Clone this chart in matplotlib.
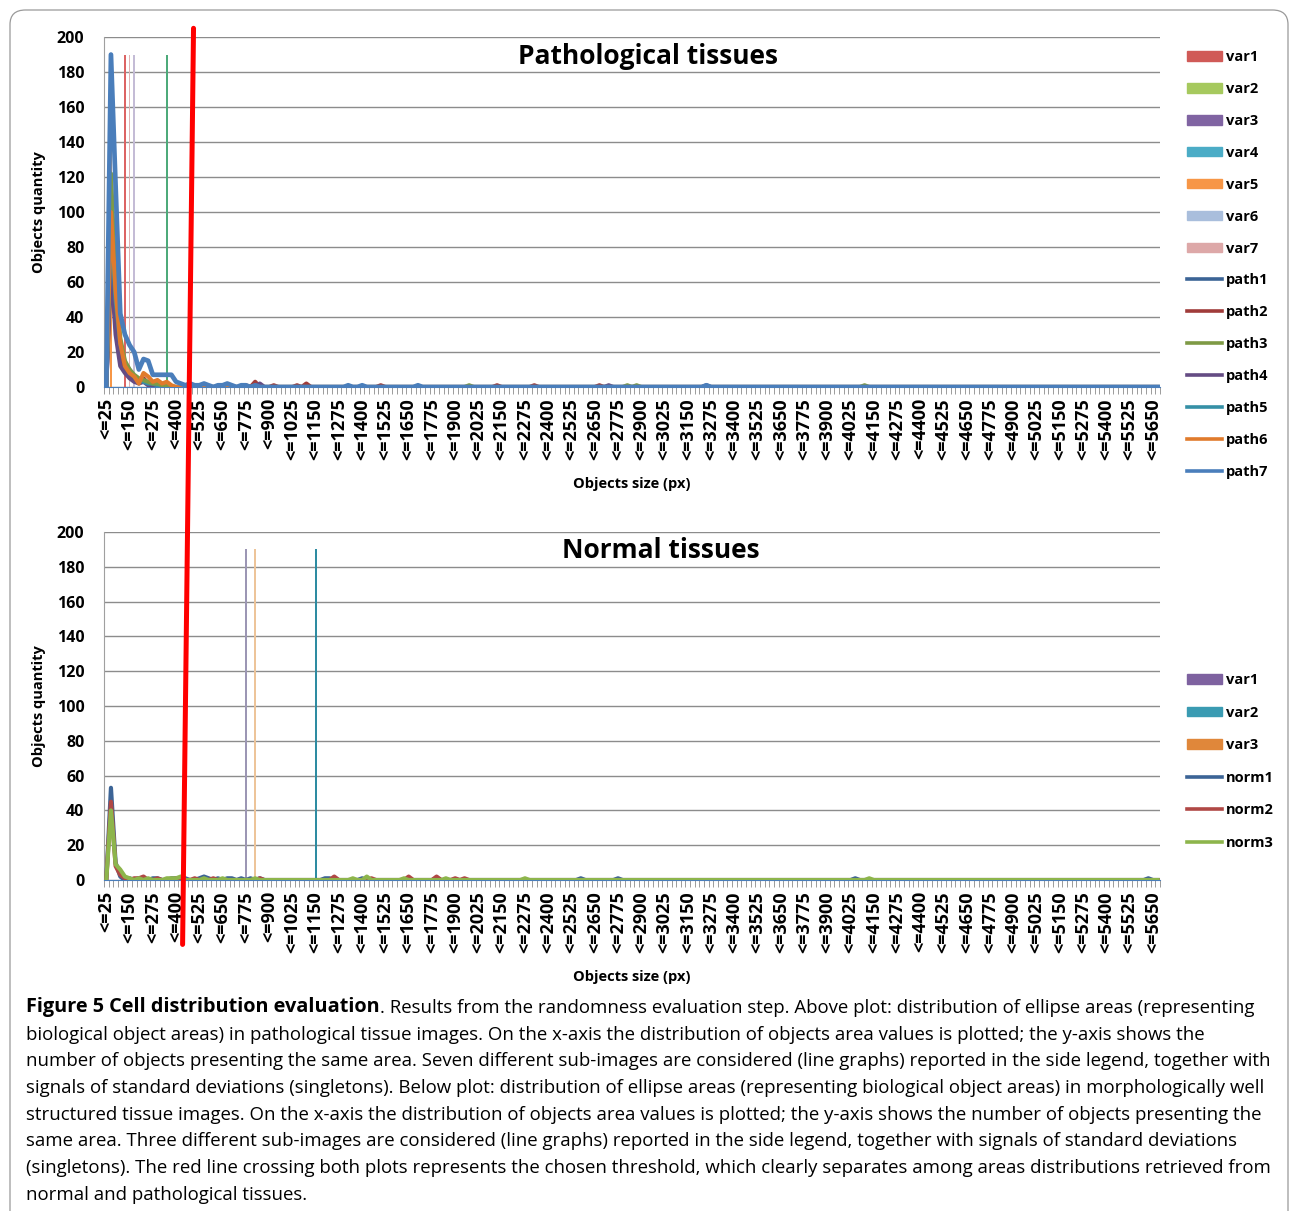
import matplotlib
matplotlib.use("Agg")
import matplotlib.pyplot as plt
import numpy as np
from matplotlib.patches import ConnectionPatch, FancyBboxPatch
from matplotlib.text import Annotation

plt.rcParams['font.family'] = ['Open Sans', 'DejaVu Sans']

# categorie: "<=25", "<=50", ... "<=5675"
rozmiary = list(range(25, 5700, 25))
etykiety = ["<=" + str(r) for r in rozmiary]

# --- tkanki patologiczne: poczatkowe wartosci serii (od "<=25")
path1 = [0, 85, 45, 20, 12, 8, 5, 4, 3, 2, 2, 1, 1, 1]
path2 = [0, 75, 35, 15, 9, 6, 4, 3, 5, 2, 1, 2, 1, 1]
path3 = [0, 122, 60, 28, 15, 10, 7, 5, 4, 3, 2, 2, 1, 1]
path4 = [0, 70, 30, 12, 8, 5, 3, 2, 3, 1, 0, 1]
path5 = [0, 95, 50, 25, 14, 10, 6, 4, 3, 2, 2, 1, 1]
path6 = [0, 100, 55, 25, 12, 8, 6, 2, 8, 6, 3, 4, 2, 3, 1]
path7 = [0, 190, 115, 42, 30, 24, 20, 10, 16, 15, 7, 7, 7, 7, 7, 3, 2, 1, 2, 1,
         1, 2, 1, 0, 1, 1, 2, 1, 0, 1, 1, 0, 1]
# pojedyncze male wartosci dalej na osi: (indeks kategorii, wartosc)
path7_dalej = [(52, 1), (55, 1), (67, 1), (129, 1)]
path2_dalej = [(30, 1), (32, 3), (36, 1), (41, 1), (43, 2), (59, 1), (84, 1), (92, 1), (106, 1)]
path4_dalej = [(33, 2), (108, 1), (129, 1)]
path3_dalej = [(78, 1), (112, 1), (114, 1), (163, 1)]

# odchylenia standardowe (singletony): (indeks, wartosc)
var_pat = {
    "var1": (4, 190), "var2": (13, 190), "var3": (1, 190), "var4": (1, 190),
    "var5": (1, 190), "var6": (6, 190), "var7": (5, 190),
}

# --- tkanki normalne
norm1 = [0, 53, 10, 2, 0, 1, 0, 1, 1, 0, 1, 1, 0, 0, 1, 1, 0, 1, 0, 0,
         1, 2, 1, 0, 1, 0, 1, 1, 0, 1, 0, 1, 0, 1]
norm2 = [0, 45, 8, 3, 1, 0, 1, 1, 2, 0, 0, 1, 0, 0, 0, 1, 0, 0, 0, 1,
         0, 0, 0, 1, 0, 0, 0, 0, 0, 0, 0, 0, 0, 1]
norm3 = [0, 40, 9, 6, 2, 1, 0, 1, 0, 1, 0, 0, 0, 1, 1, 1, 2, 0, 0, 0,
         0, 1, 0, 0, 0, 1, 0, 0, 0, 0, 0, 0, 1]
norm1_dalej = [(47, 1), (48, 1), (55, 1), (71, 1), (102, 1), (110, 1), (161, 1), (224, 1)]
norm2_dalej = [(49, 2), (57, 1), (65, 2), (71, 2), (75, 1), (77, 1)]
norm3_dalej = [(53, 1), (56, 2), (64, 1), (73, 1), (90, 1), (164, 1)]

var_norm = {"var1": (30, 190), "var2": (45, 190), "var3": (32, 190)}

kolory_path = ["#3C6496", "#A03C3A", "#7E9A45", "#654C84", "#3590A6", "#E07B2C", "#4A7EBB"]
kolory_var_pat = ["#D05A57", "#A6C95E", "#8064A2", "#4BACC6", "#F79646", "#A9BEDC", "#DDA8A8"]
kolory_var_pat_linia = ["#DC6464", "#4DAA7A", "#8064A2", "#4BACC6", "#F79646", "#C4BCD6", "#E2B2B2"]
kolory_norm = ["#3C6496", "#B04845", "#8DB54C"]
kolory_var_norm = ["#7E62A0", "#3A9BB2", "#E0873A"]
kolory_var_norm_linia = ["#9C96B4", "#2E8CA2", "#EDC499"]

n = len(rozmiary)
x = np.arange(n)


def seria(poczatek, dalej=()):
    y = np.zeros(n)
    y[:len(poczatek)] = poczatek
    for i, v in dalej:
        y[i] = v
    return y


def osie(ax, tytul, tx, ty):
    ax.set_xlim(-0.5, n - 0.5)
    ax.set_ylim(0, 200)
    ax.set_yticks(range(0, 201, 20))
    ax.grid(axis="y", color="#8C8C8C", linewidth=1.0)
    ax.set_axisbelow(True)
    for s in ["top", "right"]:
        ax.spines[s].set_visible(False)
    ax.spines["left"].set_color("#A0A0A0")
    ax.spines["bottom"].set_color("#4A7EBB")
    ax.set_xticks(x[::5])
    ax.set_xticklabels(etykiety[::5], rotation=90, fontsize=13, fontweight="bold")
    ax.set_xticks(np.arange(-0.5, n, 1), minor=True)
    ax.tick_params(axis="x", which="major", length=0, pad=8)
    ax.tick_params(axis="x", which="minor", length=5, color="#8C8C8C")
    ax.tick_params(axis="y", length=0, labelsize=11.5, pad=14)
    for t in ax.get_yticklabels():
        t.set_fontweight("bold")
    ax.set_ylabel("Objects quantity", fontsize=10.5, fontweight="bold", labelpad=8)
    ax.set_xlabel("Objects size (px)", fontsize=10.5, fontweight="bold", labelpad=12)
    ax.text(tx, ty, tytul, transform=ax.transAxes, ha="center", va="center",
            fontsize=19, fontweight="bold")


fig = plt.figure(figsize=(12.9, 12.11), dpi=100)
ax1 = fig.add_axes([0.0806, 0.6804, 0.8186, 0.2890])
ax2 = fig.add_axes([0.0806, 0.2733, 0.8186, 0.2874])

# gorny wykres
for (nazwa, (i, v)), k in zip(var_pat.items(), kolory_var_pat_linia):
    ax1.bar([i], [v], width=0.4, color=k, zorder=2)
serie_pat = [(path1, ()), (path2, path2_dalej), (path3, path3_dalej), (path4, path4_dalej),
             (path5, ()), (path6, ()), (path7, path7_dalej)]
kolejnosc = [0, 1, 3, 4, 2, 5, 6]
for j in kolejnosc:
    pocz, dalej = serie_pat[j]
    ax1.plot(x, seria(pocz, dalej), color=kolory_path[j], linewidth=3.0 if j < 6 else 3.4,
             solid_joinstyle="round", zorder=3)
osie(ax1, "Pathological tissues", 0.515, 0.945)

uchwyty = [plt.Rectangle((0, 0), 1, 1, color=k) for k in kolory_var_pat]
uchwyty += [plt.Line2D([], [], color=k, linewidth=2.6) for k in kolory_path]
nazwy = list(var_pat.keys()) + ["path1", "path2", "path3", "path4", "path5", "path6", "path7"]
ax1.legend(uchwyty, nazwy, loc="upper left", bbox_to_anchor=(1.02, 0.98), frameon=False,
           prop={"weight": "bold", "size": 10.5}, handlelength=2.4, handleheight=0.65,
           handletextpad=0.3, labelspacing=1.23, borderaxespad=0)

# dolny wykres
for (nazwa, (i, v)), k in zip(var_norm.items(), kolory_var_norm_linia):
    ax2.bar([i], [v], width=0.45, color=k, zorder=2)
serie_norm = [(norm1, norm1_dalej), (norm2, norm2_dalej), (norm3, norm3_dalej)]
for (pocz, dalej), k in zip(serie_norm, kolory_norm):
    ax2.plot(x, seria(pocz, dalej), color=k, linewidth=3.0, solid_joinstyle="round", zorder=3)
osie(ax2, "Normal tissues", 0.527, 0.948)

uchwyty2 = [plt.Rectangle((0, 0), 1, 1, color=k) for k in kolory_var_norm]
uchwyty2 += [plt.Line2D([], [], color=k, linewidth=2.6) for k in kolory_norm]
nazwy2 = list(var_norm.keys()) + ["norm1", "norm2", "norm3"]
ax2.legend(uchwyty2, nazwy2, loc="upper left", bbox_to_anchor=(1.02, 0.611), frameon=False,
           prop={"weight": "bold", "size": 10.5}, handlelength=2.4, handleheight=0.65,
           handletextpad=0.3, labelspacing=1.27, borderaxespad=0)

# czerwona linia progu przez oba wykresy
prog = ConnectionPatch(xyA=(18.75, 205), coordsA=ax1.transData,
                       xyB=(16.4, -37), coordsB=ax2.transData,
                       color="#FF0000", linewidth=3.6, zorder=10)
fig.add_artist(prog)

# ramka
ramka = FancyBboxPatch((10 / 1290, -0.05), 1278 / 1290, 1 + 0.05 - 10 / 1211,
                       boxstyle="round,pad=0,rounding_size=0.012",
                       transform=fig.transFigure, fill=False, edgecolor="#9A9A9A", linewidth=0.9)
fig.add_artist(ramka)

# podpis
linie = [
    "biological object areas) in pathological tissue images. On the x-axis the distribution of objects area values is plotted; the y-axis shows the",
    "number of objects presenting the same area. Seven different sub-images are considered (line graphs) reported in the side legend, together with",
    "signals of standard deviations (singletons). Below plot: distribution of ellipse areas (representing biological object areas) in morphologically well",
    "structured tissue images. On the x-axis the distribution of objects area values is plotted; the y-axis shows the number of objects presenting the",
    "same area. Three different sub-images are considered (line graphs) reported in the side legend, together with signals of standard deviations",
    "(singletons). The red line crossing both plots represents the chosen threshold, which clearly separates among areas distributions retrieved from",
    "normal and pathological tissues.",
]
rozmiar = 13.45
t0 = fig.text(26 / 1290, 1 - 1017 / 1211, "Figure 5 Cell distribution evaluation", fontsize=14.3,
              fontweight="bold", va="bottom", ha="left")
fig.add_artist(Annotation(". Results from the randomness evaluation step. Above plot: distribution of ellipse areas (representing",
                          xy=(1, 0), xycoords=t0, va="bottom", ha="left", fontsize=rozmiar))
for k, linia in enumerate(linie):
    fig.text(26 / 1290, 1 - (1017 + 26.7 * (k + 1)) / 1211, linia, fontsize=rozmiar,
             va="bottom", ha="left")

fig.savefig("out.png", dpi=100)
